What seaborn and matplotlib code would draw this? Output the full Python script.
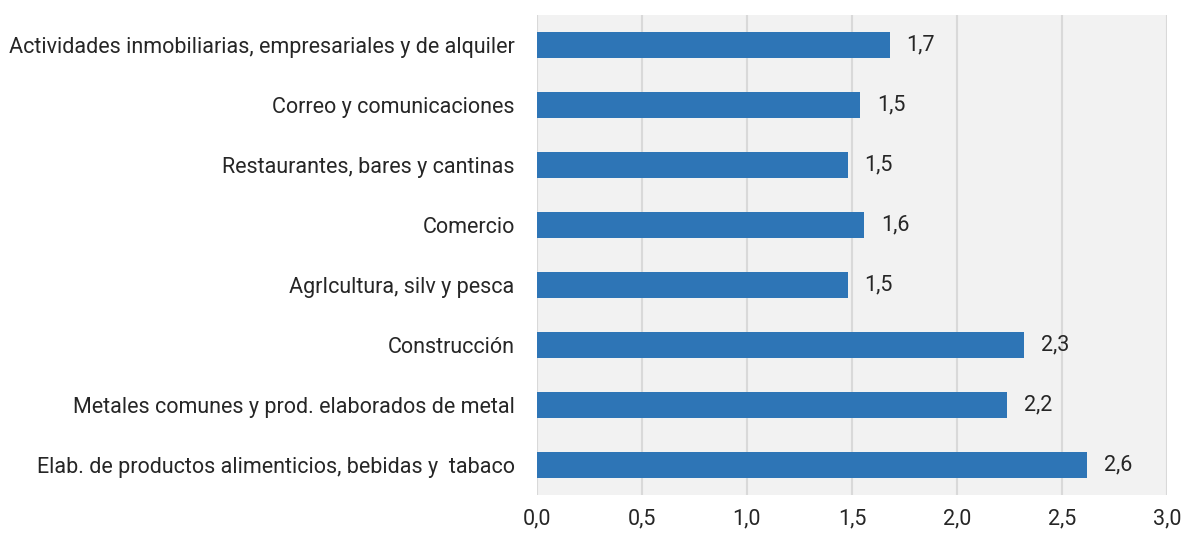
import seaborn as sns
import pandas as pd
import matplotlib.pyplot as plt

SECTORS = ['Actividades inmobiliarias, empresariales y de alquiler',
           'Correo y comunicaciones',
           'Restaurantes, bares y cantinas',
           'Comercio',
           'AgrIcultura, silv y pesca',
           'Construcción',
           'Metales comunes y prod. elaborados de metal',
           'Elab. de productos alimenticios, bebidas y  tabaco']
VALUES = [1.68, 1.54, 1.48, 1.56, 1.48, 2.32, 2.24, 2.62]
XTICKS = [0.0, 0.5, 1.0, 1.5, 2.0, 2.5, 3.0]

data = pd.DataFrame({'sector': SECTORS, 'valor': VALUES})

sns.set_style('white')
plt.rcParams['font.family'] = ['Roboto', 'DejaVu Sans']

fig = plt.figure(figsize=(11.84, 5.38), dpi=100)
ax = fig.add_axes([0.4535, 0.08, 0.532, 0.892])
ax.set_facecolor('#f2f2f2')

sns.barplot(data=data, x='valor', y='sector', color='#2e75b6', saturation=1,
            width=0.44, linewidth=0, ax=ax, zorder=3)

for bar, v in zip(ax.patches, VALUES):
    ax.annotate(f'{v:.1f}'.replace('.', ','),
                (bar.get_width(), bar.get_y() + bar.get_height() / 2),
                xytext=(12, 0), textcoords='offset points', va='center',
                fontsize=15.5, color='#262626')

ax.set_xlim(0, 3)
ax.set_xticks(XTICKS)
ax.set_xticklabels([f'{t:.1f}'.replace('.', ',') for t in XTICKS])
ax.grid(axis='x', color='#d9d9d9', linewidth=1.5, zorder=0)
ax.grid(axis='y', visible=False)
ax.set_xlabel('')
ax.set_ylabel('')
for s in ax.spines.values():
    s.set_visible(False)
ax.tick_params(axis='both', length=0, labelsize=15.5, labelcolor='#262626')
ax.tick_params(axis='y', pad=16)
ax.tick_params(axis='x', pad=10)

fig.savefig('out.png', dpi=100)
